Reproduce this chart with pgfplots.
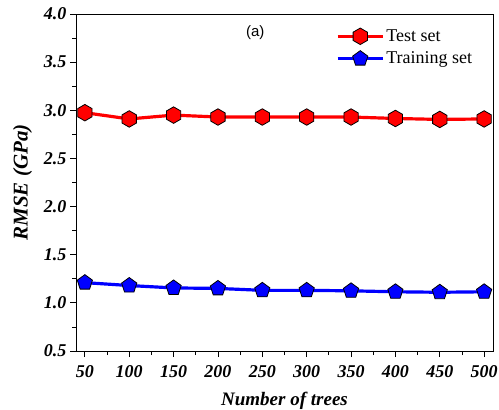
\documentclass[border=0pt]{standalone}
\usepackage{pgfplots}
\pgfplotsset{compat=1.18}
\usepackage{fontspec}
\setmainfont{Liberation Serif}
\newfontfamily\arialfont{Liberation Sans}
\usetikzlibrary{plotmarks}
\pgfdeclareplotmark{hexagon*}{%
  \pgfpathmoveto{\pgfqpointpolar{90}{1.1\pgfplotmarksize}}%
  \pgfpathlineto{\pgfqpointpolar{150}{1.1\pgfplotmarksize}}%
  \pgfpathlineto{\pgfqpointpolar{210}{1.1\pgfplotmarksize}}%
  \pgfpathlineto{\pgfqpointpolar{270}{1.1\pgfplotmarksize}}%
  \pgfpathlineto{\pgfqpointpolar{330}{1.1\pgfplotmarksize}}%
  \pgfpathlineto{\pgfqpointpolar{30}{1.1\pgfplotmarksize}}%
  \pgfpathclose
  \pgfusepathqfillstroke}
\begin{document}
\begin{tikzpicture}
\begin{axis}[
  scale only axis,
  width=417bp, height=337bp,
  xmin=40, xmax=510, ymin=0.5, ymax=4.0,
  xtick={50,100,...,500},
  ytick={0.5,1.0,...,4.0},
  minor x tick num=1, minor y tick num=1,
  tick align=outside,
  xtick pos=bottom, ytick pos=left,
  major tick length=6bp, minor tick length=4bp,
  every tick/.style={black, line width=0.8pt},
  axis line style={line width=1pt},
  /pgf/number format/assume math mode=true,
  yticklabel style={/pgf/number format/.cd, fixed, fixed zerofill, precision=1},
  xticklabel style={yshift=-5bp},
  ticklabel style={font=\fontsize{18bp}{20bp}\selectfont\bfseries\itshape},
  xlabel={Number of trees},
  ylabel={RMSE (GPa)},
  xlabel style={font=\fontsize{19bp}{21bp}\selectfont\bfseries\itshape,
    at={(axis description cs:0.5,-0.148)}, anchor=center},
  ylabel style={font=\fontsize{21bp}{23bp}\selectfont\bfseries\itshape,
    at={(axis description cs:-0.128,0.5)}, anchor=center},
  legend style={draw=none, fill=none, at={(rel axis cs:0.621,0.963)}, anchor=north west,
    font=\fontsize{18bp}{20bp}\selectfont, row sep=5bp, inner sep=1bp},
  legend cell align=left,
  legend image code/.code={%
    \draw[line width=3pt] (0bp,0bp) -- (45bp,0bp);
    \draw[mark repeat=2,mark phase=2] plot coordinates {(0bp,0bp) (22.5bp,0bp) (45bp,0bp)};},
]
\coordinate (SW) at (rel axis cs:0,0);
\coordinate (NE) at (rel axis cs:1,1);
\addplot[red, line width=3.2pt, mark=hexagon*, mark size=7.5bp,
  mark options={fill=red, draw=black, line width=0.8pt}]
  coordinates {(50,2.975) (100,2.91) (150,2.95) (200,2.93) (250,2.93) (300,2.93) (350,2.93) (400,2.915) (450,2.905) (500,2.91)};
\addlegendentry{Test set}
\addplot[blue, line width=3.2pt, mark=pentagon*, mark size=8bp,
  mark options={fill=blue, draw=black, line width=0.8pt}]
  coordinates {(50,1.21) (100,1.18) (150,1.155) (200,1.15) (250,1.13) (300,1.13) (350,1.125) (400,1.115) (450,1.11) (500,1.115)};
\addlegendentry{Training set}
\node[font=\arialfont\fontsize{15bp}{17bp}\selectfont] at (rel axis cs:0.43,0.944) {(a)};
\end{axis}
\pgfresetboundingbox
\path ([shift={(-76bp,-58bp)}]SW) rectangle ([shift={(6bp,14bp)}]NE);
\end{tikzpicture}
\end{document}
